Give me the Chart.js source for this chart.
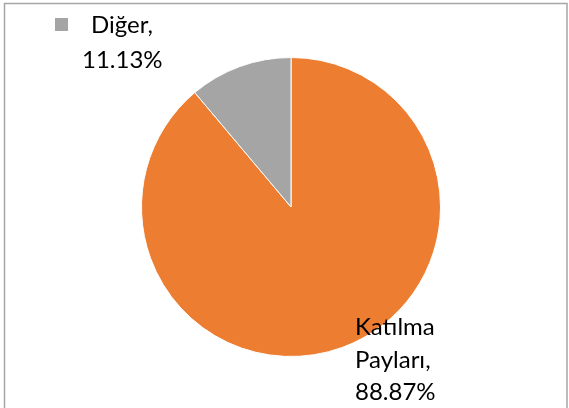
<!DOCTYPE html>
<html>
<head>
<meta charset="utf-8">
<script src="https://cdn.jsdelivr.net/npm/chart.js@4"></script>
<style>
html,body{margin:0;padding:0;background:#fff;}
#wrap{position:relative;width:569px;height:408px;}
</style>
</head>
<body>
<div id="wrap"><canvas id="c" width="569" height="408"></canvas></div>
<script>
const categories = ["Katılma Payları", "Diğer"];
const values = [88.87, 11.13];
const labelText = [["Katılma", "Payları,", "88.87%"], ["Diğer,", "11.13%"]];
const colors = ["#ED7D31", "#A5A5A5"];

const FONT = "24px Lato";

const decor = {
  id: "decor",
  beforeDraw(chart) {
    const ctx = chart.ctx;
    ctx.save();
    ctx.fillStyle = "#fff";
    ctx.fillRect(0, 0, chart.width, chart.height);
    ctx.strokeStyle = "#a6a6a6";
    ctx.lineWidth = 1.5;
    ctx.beginPath();
    ctx.moveTo(4.5, 420);
    ctx.lineTo(4.5, 3.5);
    ctx.lineTo(567, 3.5);
    ctx.lineTo(567, 420);
    ctx.stroke();
    ctx.restore();
  },
  afterDraw(chart) {
    const ctx = chart.ctx;
    ctx.save();
    ctx.font = FONT;
    ctx.fillStyle = "#000";
    ctx.textBaseline = "alphabetic";
    ctx.textAlign = "left";
    const l0 = labelText[0];
    const b0 = [335, 368, 400];
    l0.forEach((t, i) => ctx.fillText(t, 355, b0[i]));
    ctx.fillStyle = colors[1];
    ctx.fillRect(55, 18, 13, 13);
    ctx.fillStyle = "#000";
    const l1 = labelText[1];
    ctx.fillText(l1[0], 91, 33);
    ctx.fillText(l1[1], 82, 68);
    ctx.restore();
  }
};

new Chart(document.getElementById("c"), {
  type: "pie",
  data: {
    labels: categories,
    datasets: [{
      data: values,
      backgroundColor: colors,
      borderColor: "#ffffff",
      borderWidth: 1
    }]
  },
  options: {
    responsive: false,
    animation: false,
    rotation: 0,
    layout: { padding: { top: 57, bottom: 51, left: 141, right: 128 } },
    plugins: {
      legend: { display: false },
      tooltip: { enabled: false }
    }
  },
  plugins: [decor]
});
</script>
</body>
</html>
